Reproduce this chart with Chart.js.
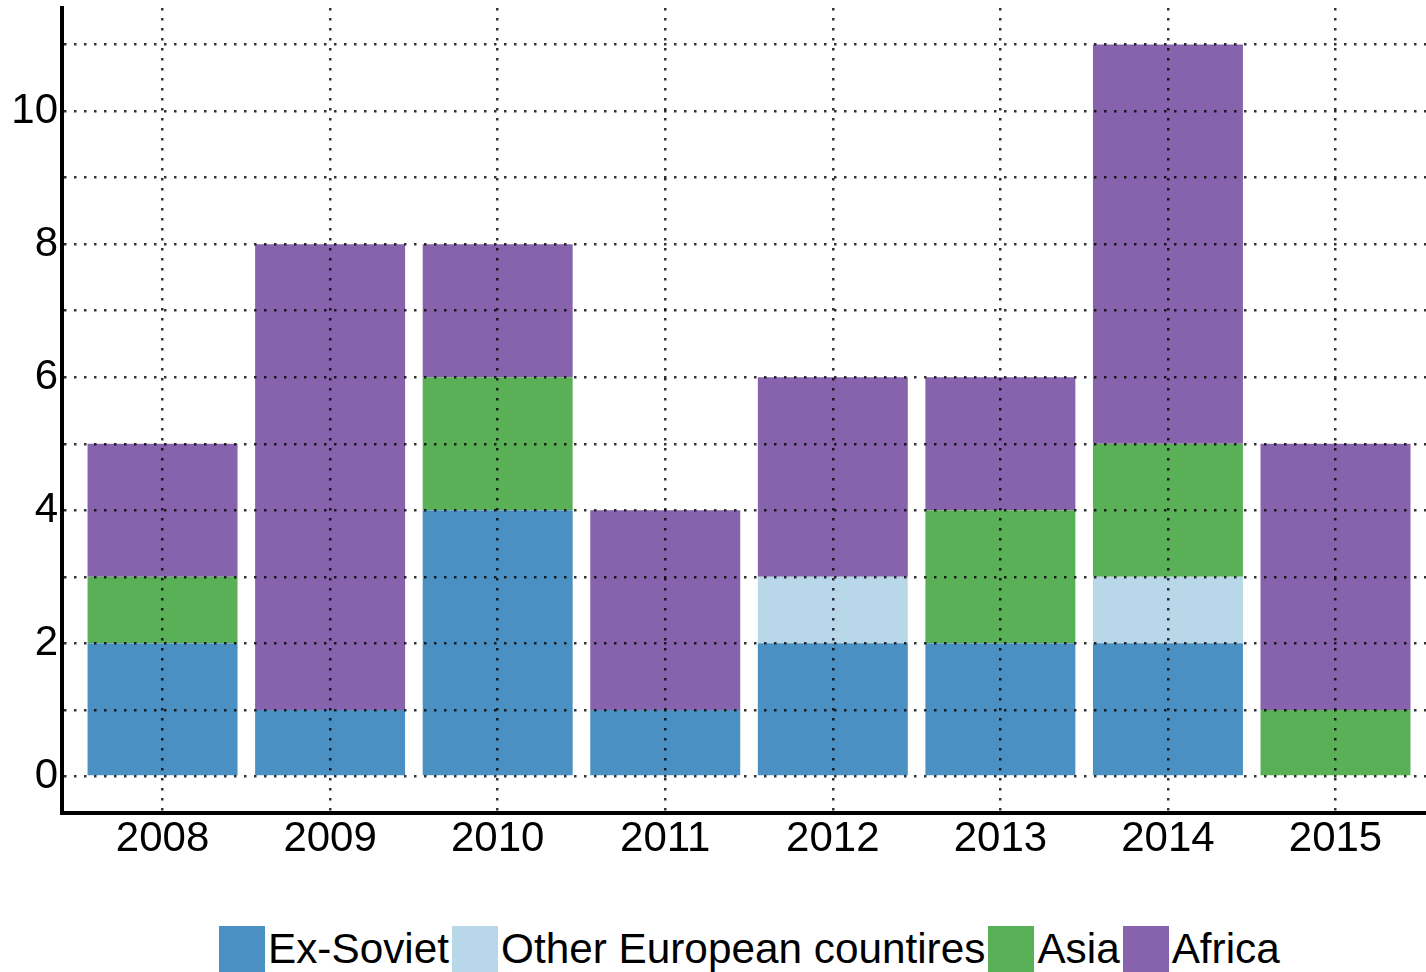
<!DOCTYPE html>
<html>
<head>
<meta charset="utf-8">
<script src="https://cdn.jsdelivr.net/npm/chart.js@4"></script>
<style>
  body { margin: 0; background: #fff; font-family: "Liberation Sans", Arial, sans-serif; }
  #wrap { position: relative; width: 1426px; height: 972px; }
  #legend { position: absolute; left: 219px; top: 926px; display: flex; align-items: center; font-size: 42.3px; color: #000; white-space: nowrap; }
  #legend .box { width: 46px; height: 46px; margin-right: 3px; }
  #legend .lbl { margin-right: 3px; line-height: 46px; }
</style>
</head>
<body>
<div id="wrap">
  <canvas id="bars" width="1426" height="900"></canvas>
  <div id="legend"></div>
</div>
<script>
var years = [2008, 2009, 2010, 2011, 2012, 2013, 2014, 2015];
var exSoviet = [2, 1, 4, 1, 2, 2, 2, 0];
var otherEurope = [0, 0, 0, 0, 1, 0, 1, 0];
var asia = [1, 0, 2, 0, 0, 2, 2, 1];
var africa = [2, 7, 2, 3, 3, 2, 6, 4];

var seriesNames = ['Ex-Soviet', 'Other European countires', 'Asia', 'Africa'];
var seriesValues = [exSoviet, otherEurope, asia, africa];
var seriesColors = ['#4a90c2', '#b8d7e9', '#5ab056', '#8763ad'];

function toPoints(vals) {
    return years.map(function (y, i) { return { x: y, y: vals[i] }; });
}

var datasets = seriesNames.map(function (name, i) {
    return {
        label: name,
        data: toPoints(seriesValues[i]),
        backgroundColor: seriesColors[i],
        borderWidth: 0,
        barPercentage: 0.895,
        categoryPercentage: 1
    };
});

// dotted grid is drawn over the bars, as in the original
var gridColor = 'rgba(0,0,0,0.8)';

var ctx = document.getElementById('bars').getContext('2d');
var chart = new Chart(ctx, {
    type: 'bar',
    data: { datasets: datasets },
    options: {
        responsive: false,
        animation: false,
        layout: { padding: { top: 8, right: 0, left: 0, bottom: 0 } },
        plugins: { legend: { display: false }, tooltip: { enabled: false } },
        scales: {
            x: {
                type: 'linear',
                stacked: true,
                offset: false,
                min: 2007.4,
                max: 2015.54,
                afterFit: function (s) { s.height = 87; s.paddingLeft = 0; s.paddingRight = 0; },
                ticks: {
                    stepSize: 1,
                    includeBounds: false,
                    color: '#000',
                    padding: 1,
                    maxRotation: 0,
                    font: { family: 'Liberation Sans', size: 42 },
                    callback: function (v) { return String(v); }
                },
                grid: { offset: false, z: 1, color: gridColor, lineWidth: 2.5, drawTicks: false },
                border: { display: true, z: 2, color: '#000', width: 4, dash: [2.5, 7.5] }
            },
            y: {
                stacked: true,
                min: -0.55,
                max: 11.55,
                afterFit: function (s) { s.width = 62; s.paddingTop = 0; s.paddingBottom = 0; },
                ticks: {
                    stepSize: 1,
                    includeBounds: false,
                    color: '#000',
                    padding: 4,
                    font: { family: 'Liberation Sans', size: 42 },
                    callback: function (v) { return v % 2 === 0 ? String(v) : ''; }
                },
                grid: { z: 1, color: gridColor, lineWidth: 2.5, drawTicks: false },
                border: { display: true, z: 2, color: '#000', width: 4, dash: [2.5, 7.5] }
            }
        }
    }
});

var legend = document.getElementById('legend');
seriesNames.forEach(function (name, i) {
    var box = document.createElement('span');
    box.className = 'box';
    box.style.background = seriesColors[i];
    var lbl = document.createElement('span');
    lbl.className = 'lbl';
    lbl.textContent = name;
    legend.appendChild(box);
    legend.appendChild(lbl);
});
</script>
</body>
</html>
